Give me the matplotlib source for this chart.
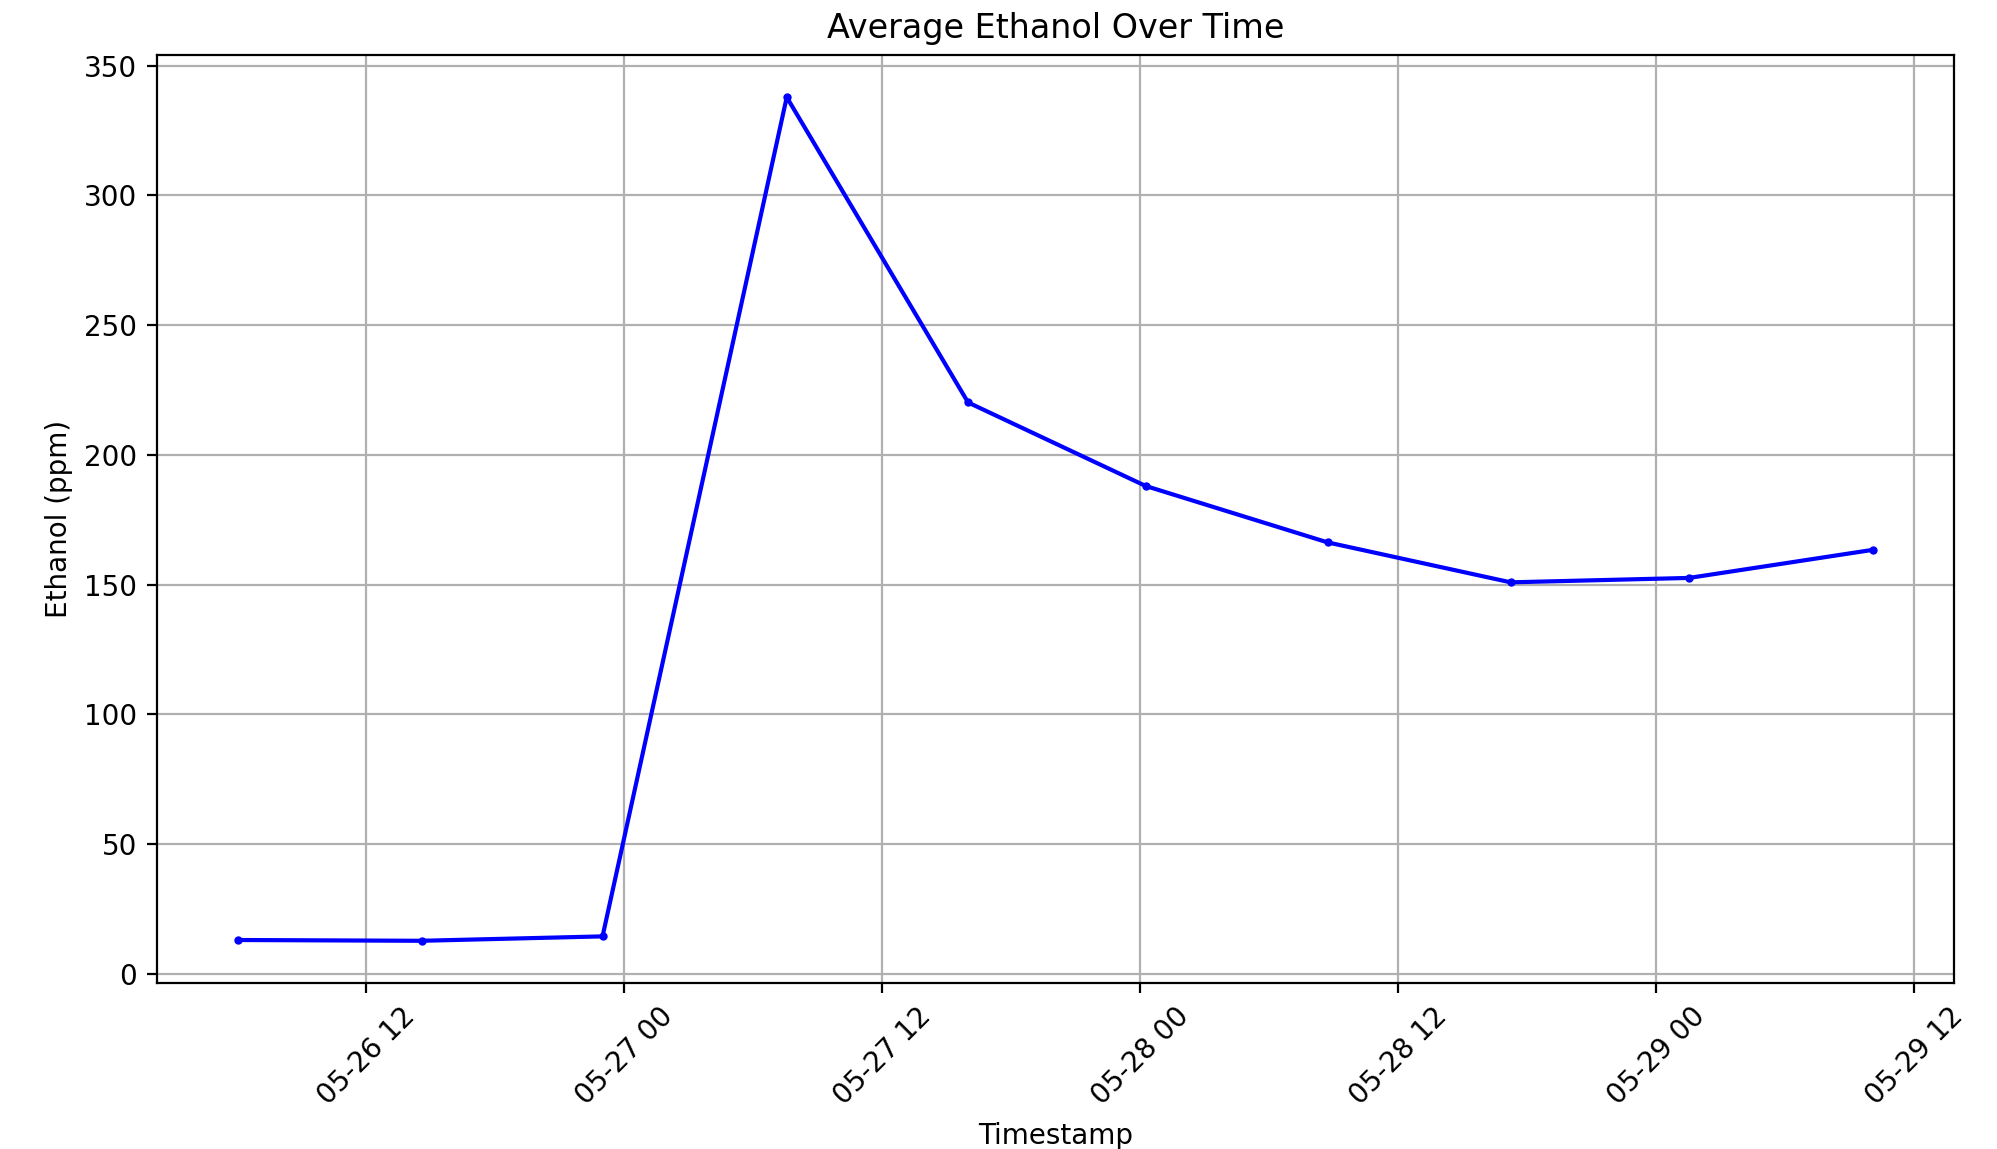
import datetime as dt
import matplotlib
matplotlib.use("Agg")
import matplotlib.pyplot as plt
import matplotlib.dates as mdates

# averaged readings
timestamps = [
    "2024-05-26 06:04", "2024-05-26 14:35", "2024-05-26 23:00",
    "2024-05-27 07:34", "2024-05-27 16:00", "2024-05-28 00:16",
    "2024-05-28 08:43", "2024-05-28 17:14", "2024-05-29 01:32",
    "2024-05-29 10:04",
]
ethanol = [13.1, 12.8, 14.5, 337.8, 220.2, 188.0, 166.3, 150.9, 152.6, 163.4]

times = [dt.datetime.strptime(t, "%Y-%m-%d %H:%M") for t in timestamps]

fig = plt.figure(figsize=(9.985, 5.745), dpi=200)
ax = fig.add_axes([0.0785, 0.1445, 0.9001, 0.8076])

ax.plot(times, ethanol, marker='.', markersize=4, color='blue', linewidth=1.5)
ax.set_title('Average Ethanol Over Time')
ax.set_xlabel('Timestamp')
ax.set_ylabel('Ethanol (ppm)')
ax.xaxis.set_major_locator(mdates.HourLocator(byhour=[0, 12]))
ax.xaxis.set_major_formatter(mdates.DateFormatter('%m-%d %H'))
plt.setp(ax.get_xticklabels(), rotation=45)
ax.grid(True)

fig.savefig('out.png', dpi=200)
